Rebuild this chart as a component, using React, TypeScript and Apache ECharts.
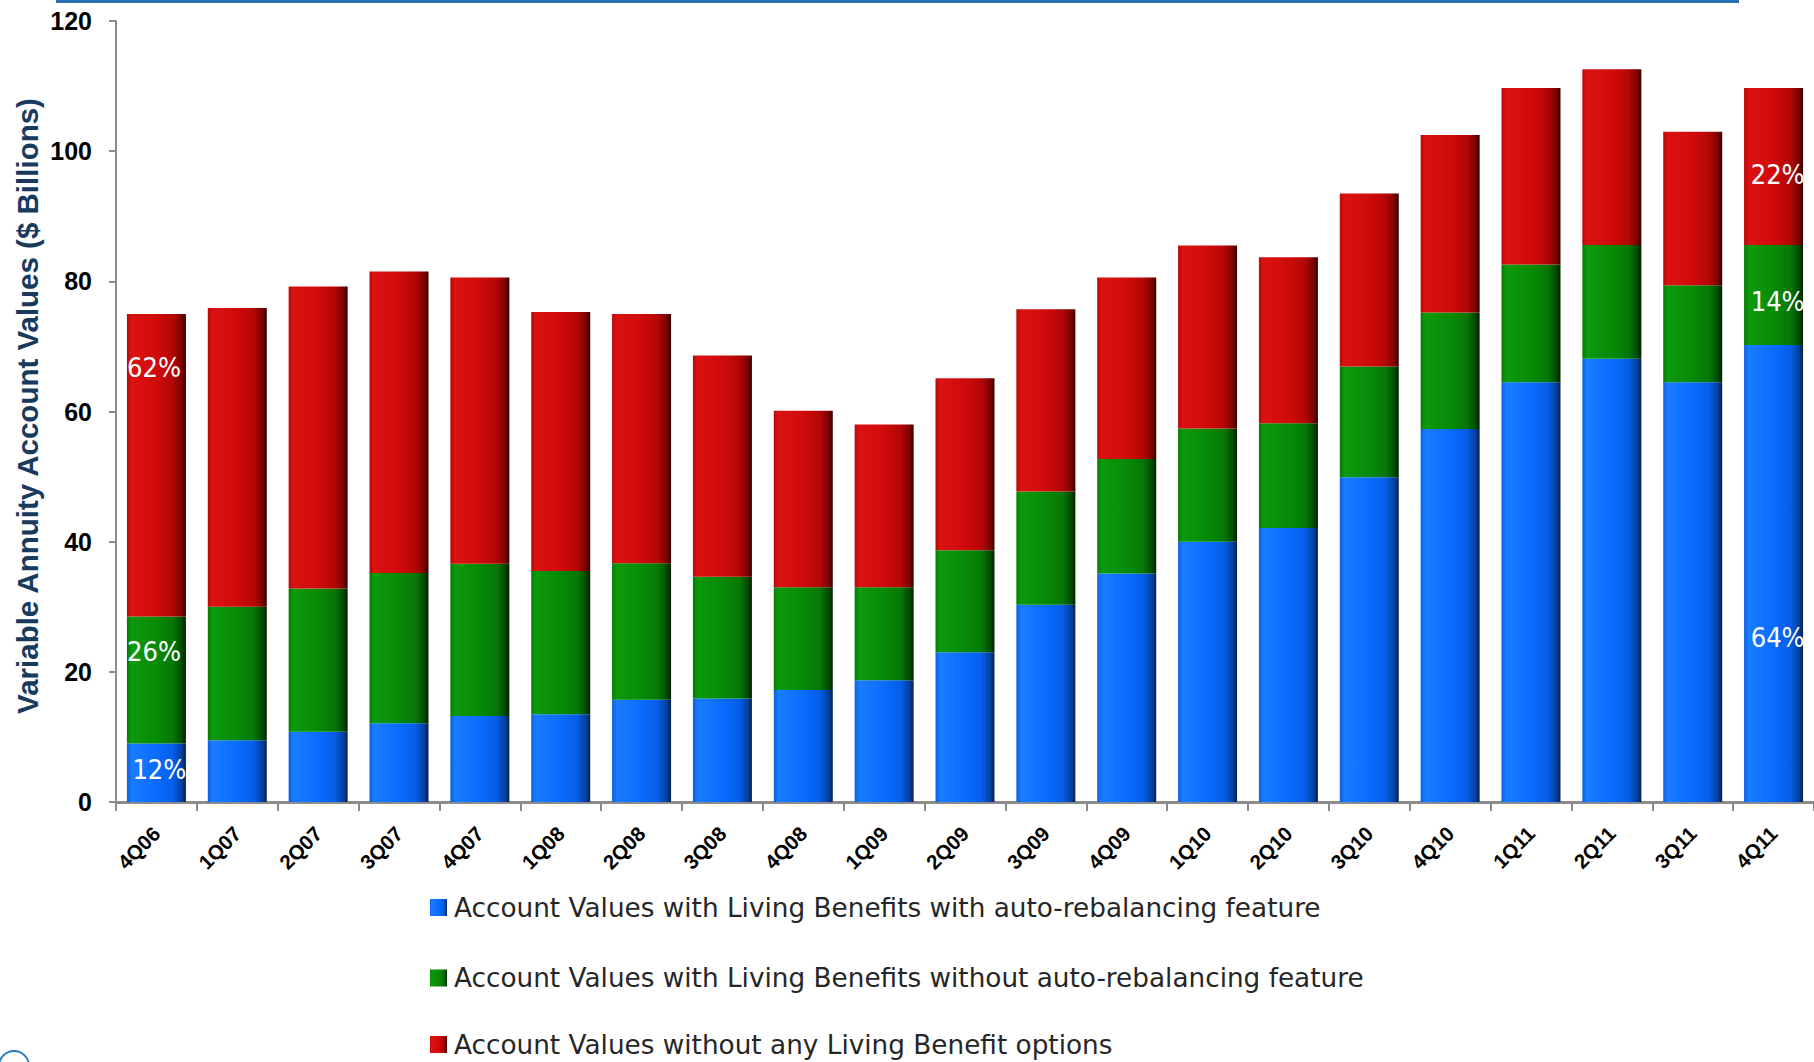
import React, { useEffect, useRef } from "react";
import * as echarts from "echarts";

const categories = ["4Q06","1Q07","2Q07","3Q07","4Q07","1Q08","2Q08","3Q08","4Q08","1Q09","2Q09","3Q09","4Q09","1Q10","2Q10","3Q10","4Q10","1Q11","2Q11","3Q11","4Q11"];
const withAutoRebal = [9.0,9.5,10.8,12.1,13.2,13.5,15.7,15.9,17.2,18.7,23.0,30.3,35.1,40.0,42.1,49.9,57.3,64.5,68.1,64.5,70.2];
const withoutAutoRebal = [19.5,20.5,22.0,23.1,23.4,22.0,21.0,18.7,15.8,14.3,15.7,17.4,17.6,17.4,16.1,17.0,17.9,18.1,17.5,14.9,15.4];
const noLivingBenefit = [46.5,45.9,46.4,46.3,44.0,39.8,38.3,34.0,27.1,25.0,26.4,28.0,27.9,28.1,25.5,26.6,27.3,27.1,27.0,23.6,24.1];
const seriesNames = [
  "Account Values with Living Benefits with auto-rebalancing feature",
  "Account Values with Living Benefits without auto-rebalancing feature",
  "Account Values without any Living Benefit options",
];
const yAxisTitle = "Variable Annuity Account Values ($ Billions)";
const firstBarLabels = ["12%", "26%", "62%"];
const lastBarLabels = ["64%", "14%", "22%"];
const yTicks = { min: 0, max: 120, interval: 20 };

const grad = (stops: string[]) =>
  new echarts.graphic.LinearGradient(0, 0, 1, 0, [
    { offset: 0, color: stops[0] },
    { offset: 0.08, color: stops[1] },
    { offset: 0.5, color: stops[2] },
    { offset: 0.78, color: stops[3] },
    { offset: 0.93, color: stops[4] },
    { offset: 1, color: stops[5] },
  ]);

const blueFill = grad(["#0b5fe0", "#1a7cff", "#0a6cff", "#055ee8", "#0340a0", "#0b1f44"]);
const greenFill = grad(["#067a06", "#0c9a0c", "#088a08", "#067806", "#024a02", "#021f02"]);
const redFill = grad(["#b80808", "#dc1212", "#d00a0a", "#b40606", "#7a0202", "#350000"]);

const labelBase = {
  color: "#ffffff",
  fontFamily: "'DejaVu Sans Condensed', 'Liberation Sans Narrow', sans-serif",
  fontSize: 27,
  align: "center",
  verticalAlign: "middle",
};

function buildData(values: number[], firstLabel: string, firstPos: any[], lastLabel: string, lastPos: any[]) {
  return values.map((v, i) => {
    if (i === 0) {
      return { value: v, label: { show: true, formatter: firstLabel, position: firstPos, ...labelBase } };
    }
    if (i === values.length - 1) {
      return { value: v, label: { show: true, formatter: lastLabel, position: lastPos, ...labelBase } };
    }
    return v;
  });
}

const legendCenters = [903, 973.5, 1040];

export default function App() {
  const ref = useRef<HTMLDivElement>(null);
  useEffect(() => {
    if (!ref.current) return;
    const chart = echarts.init(ref.current, null, { renderer: "svg" });
    const barCommon = {
      type: "bar",
      stack: "total",
      barWidth: 59,
      emphasis: { disabled: true },
    };
    const legends = seriesNames.map((name, i) => ({
      orient: "vertical",
      left: 430,
      top: legendCenters[i] - 8.5,
      padding: 0,
      itemWidth: 17,
      itemHeight: 17,
      icon: "rect",
      selectedMode: false,
      textStyle: {
        fontFamily: "'DejaVu Sans', Verdana, sans-serif",
        fontSize: 26.3,
        lineHeight: 17,
        color: "#262626",
        padding: [0, 0, 0, 2],
      },
      data: [name],
    }));
    chart.setOption({
      animation: false,
      backgroundColor: "#ffffff",
      grid: { left: 116, top: 21, width: 1711.5, height: 781, containLabel: false },
      legend: legends,
      xAxis: {
        type: "category",
        data: categories,
        axisLine: { lineStyle: { color: "#8c8c8c", width: 3 } },
        axisTick: { show: true, length: 9, lineStyle: { color: "#8c8c8c", width: 2 } },
        axisLabel: {
          rotate: 45,
          margin: 28,
          color: "#000000",
          fontWeight: "bold",
          fontSize: 20.5,
          fontFamily: "'Liberation Sans', Arial, sans-serif",
          interval: 0,
        },
      },
      yAxis: {
        type: "value",
        min: yTicks.min,
        max: yTicks.max,
        interval: yTicks.interval,
        axisLine: { show: true, lineStyle: { color: "#8c8c8c", width: 2 } },
        axisTick: { show: true, length: 7, lineStyle: { color: "#8c8c8c", width: 2 } },
        splitLine: { show: false },
        axisLabel: {
          margin: 24,
          color: "#000000",
          fontWeight: "bold",
          fontSize: 25,
          fontFamily: "'Liberation Sans', Arial, sans-serif",
        },
      },
      series: [
        {
          ...barCommon,
          name: seriesNames[0],
          itemStyle: { color: blueFill },
          data: buildData(withAutoRebal, firstBarLabels[0], ["55%", 26], lastBarLabels[0], ["57%", 292]),
        },
        {
          ...barCommon,
          name: seriesNames[1],
          itemStyle: { color: greenFill },
          data: buildData(withoutAutoRebal, firstBarLabels[1], ["46%", 35], lastBarLabels[1], ["57%", 57]),
        },
        {
          ...barCommon,
          name: seriesNames[2],
          itemStyle: { color: redFill },
          data: buildData(noLivingBenefit, firstBarLabels[2], ["46%", 54], lastBarLabels[2], ["57%", 86]),
        },
      ],
      graphic: [
        {
          type: "rect",
          left: 56,
          top: 0,
          shape: { width: 1683, height: 3 },
          style: { fill: "#2b6fb3" },
          silent: true,
        },
        {
          type: "text",
          x: 27,
          y: 406,
          rotation: Math.PI / 2,
          style: {
            text: yAxisTitle,
            fill: "#173a5e",
            fontWeight: "bold",
            fontSize: 29.5,
            fontFamily: "'Liberation Sans', Arial, sans-serif",
            align: "center",
            verticalAlign: "middle",
          },
          silent: true,
        },
        {
          type: "arc",
          shape: { cx: 14, cy: 1066, r: 15, startAngle: Math.PI, endAngle: 2 * Math.PI },
          style: { stroke: "#2b7ab8", lineWidth: 2, fill: "none" },
          silent: true,
        },
      ],
    });
    return () => chart.dispose();
  }, []);
  return (
    <div
      ref={ref}
      style={{ position: "fixed", left: 0, top: 0, width: 1814, height: 1062, background: "#fff" }}
    />
  );
}
